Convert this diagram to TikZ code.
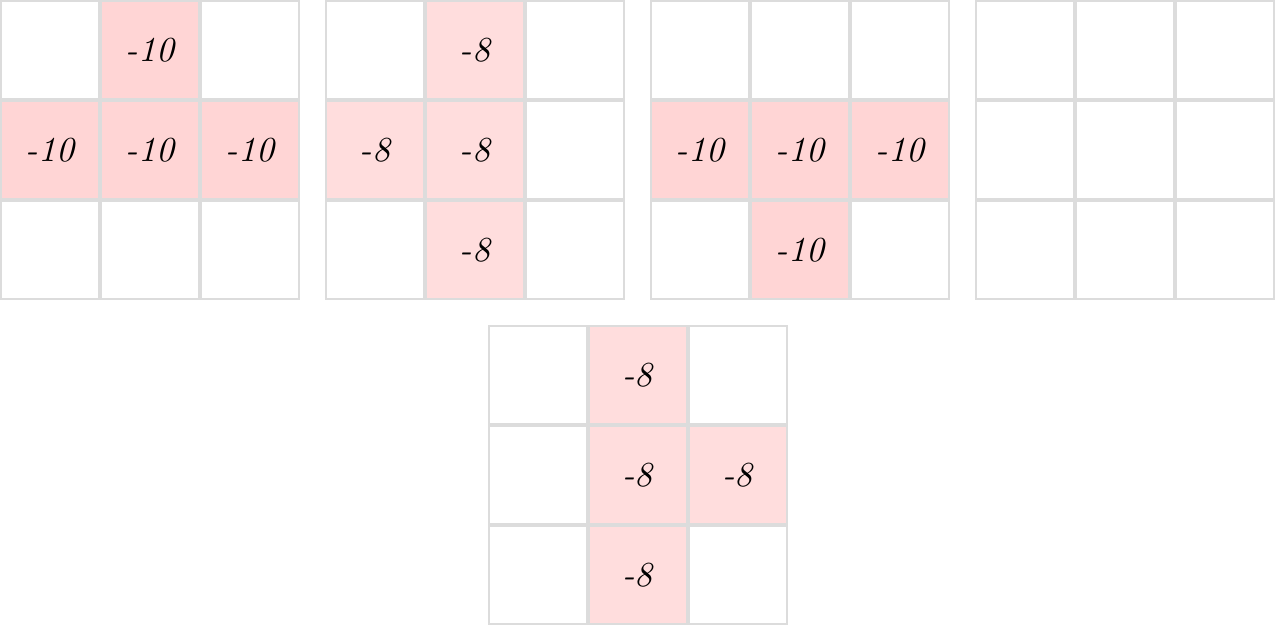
\documentclass[tikz,border=0pt]{standalone}
\usepackage{tikz}
\usetikzlibrary{positioning}

\definecolor{gridgray}{HTML}{DCDCDC}
\definecolor{hotpink}{HTML}{FFD5D5}
\definecolor{warmpink}{HTML}{FFDDDD}

\begin{document}
\begin{tikzpicture}[
    font=\itshape
]

    % Cell style: 1cm square, 2px gray border on the inside
    \tikzset{cell/.style={
        draw=gridgray,
        line width=0.02cm,
        minimum size=0.98cm,
        inner sep=0pt,
        outer sep=0pt
    }}

    \useasboundingbox (0,0) rectangle (12.75,6.25);

    % Grid 1 (row, column, fill, value)
    \begin{scope}[shift={(0,3.25)}]
    \foreach \r/\c/\f/\t in {1/1/white/, 1/2/hotpink/-10, 1/3/white/,
                             2/1/hotpink/-10, 2/2/hotpink/-10, 2/3/hotpink/-10,
                             3/1/white/, 3/2/white/, 3/3/white/}
        \node[cell, fill=\f] (G1-\r\c) at (\c-0.5, 3.5-\r) {\t};
    \end{scope}

    % Grid 2
    \begin{scope}[shift={(3.25,3.25)}]
    \foreach \r/\c/\f/\t in {1/1/white/, 1/2/warmpink/-8, 1/3/white/,
                             2/1/warmpink/-8, 2/2/warmpink/-8, 2/3/white/,
                             3/1/white/, 3/2/warmpink/-8, 3/3/white/}
        \node[cell, fill=\f] (G2-\r\c) at (\c-0.5, 3.5-\r) {\t};
    \end{scope}

    % Grid 3
    \begin{scope}[shift={(6.5,3.25)}]
    \foreach \r/\c/\f/\t in {1/1/white/, 1/2/white/, 1/3/white/,
                             2/1/hotpink/-10, 2/2/hotpink/-10, 2/3/hotpink/-10,
                             3/1/white/, 3/2/hotpink/-10, 3/3/white/}
        \node[cell, fill=\f] (G3-\r\c) at (\c-0.5, 3.5-\r) {\t};
    \end{scope}

    % Grid 4 (empty)
    \begin{scope}[shift={(9.75,3.25)}]
    \foreach \r in {1,2,3}
        \foreach \c in {1,2,3}
            \node[cell, fill=white] (G4-\r\c) at (\c-0.5, 3.5-\r) {};
    \end{scope}

    % Grid 5 (bottom, centred)
    \begin{scope}[shift={(4.875,0)}]
    \foreach \r/\c/\f/\t in {1/1/white/, 1/2/warmpink/-8, 1/3/white/,
                             2/1/white/, 2/2/warmpink/-8, 2/3/warmpink/-8,
                             3/1/white/, 3/2/warmpink/-8, 3/3/white/}
        \node[cell, fill=\f] (G5-\r\c) at (\c-0.5, 3.5-\r) {\t};
    \end{scope}

\end{tikzpicture}
\end{document}
